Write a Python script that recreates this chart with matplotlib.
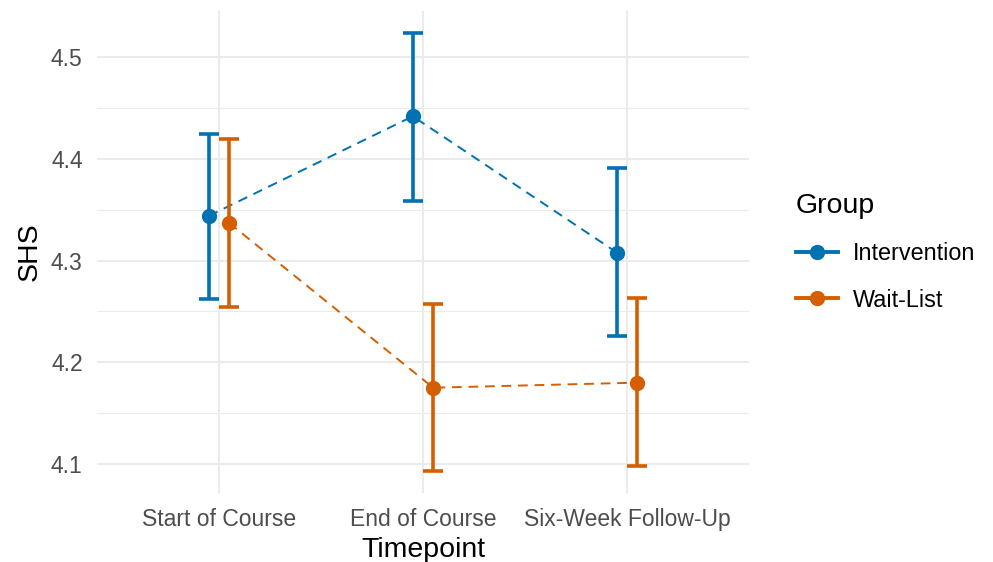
import numpy as np
import matplotlib.pyplot as plt
from matplotlib.lines import Line2D

plt.rcParams['font.family'] = ['Liberation Sans', 'DejaVu Sans']

timepoints = ["Start of Course", "End of Course", "Six-Week Follow-Up"]
groups = ["Intervention", "Wait-List"]
colors = ["#0072B2", "#D55E00"]

# group means and confidence limits, per timepoint
means = {
    "Intervention": [4.344, 4.442, 4.308],
    "Wait-List": [4.337, 4.175, 4.180],
}
lower = {
    "Intervention": [4.262, 4.359, 4.226],
    "Wait-List": [4.254, 4.093, 4.098],
}
upper = {
    "Intervention": [4.425, 4.524, 4.391],
    "Wait-List": [4.420, 4.257, 4.263],
}

dodge = [-0.05, 0.05]

fig = plt.figure(figsize=(9.93, 5.62), dpi=100)
ax = fig.add_axes([96.6 / 993, 1 - 493 / 562, (749.4 - 96.6) / 993, (493 - 11) / 562])

x = np.arange(1, len(timepoints) + 1)
for g, col, d in zip(groups, colors, dodge):
    m = np.array(means[g])
    lo = np.array(lower[g])
    hi = np.array(upper[g])
    xs = x + d
    ax.plot(xs, m, color=col, lw=1.4, ls=(0, (5, 3.5)), zorder=3)
    ax.errorbar(xs, m, yerr=[m - lo, hi - m], fmt='none', ecolor=col,
                elinewidth=2.6, capsize=7.2, capthick=2.6, zorder=4)
    ax.plot(xs, m, 'o', color=col, ms=10, zorder=5)

# ggplot-like 5% expansion
allv = np.concatenate([np.array(lower[g]) for g in groups] + [np.array(upper[g]) for g in groups])
rng = allv.max() - allv.min()
ax.set_ylim(allv.min() - 0.05 * rng, allv.max() + 0.05 * rng)
ax.set_xlim(0.4, len(timepoints) + 0.6)

ax.set_xticks(x)
ax.set_xticklabels(timepoints)
ax.set_yticks([4.1, 4.2, 4.3, 4.4, 4.5])
ax.set_yticks([4.15, 4.25, 4.35, 4.45], minor=True)
ax.grid(True, which='major', color='#EBEBEB', lw=1.4, zorder=0)
ax.grid(True, which='minor', axis='y', color='#EBEBEB', lw=0.8, zorder=0)
ax.set_axisbelow(True)
for s in ax.spines.values():
    s.set_visible(False)
ax.tick_params(which='both', length=0, labelsize=16.5, labelcolor='#4D4D4D')
ax.tick_params(axis='x', pad=11)
ax.tick_params(axis='y', pad=10)
ax.set_xlabel("Timepoint", fontsize=20.5, labelpad=4)
ax.set_ylabel("SHS", fontsize=20.5, labelpad=6)

handles = [Line2D([], [], color=c, lw=2.8, marker='o', ms=10) for c in colors]
leg = fig.legend(handles, groups, loc='upper left', bbox_to_anchor=(775 / 993, 1 - 172 / 562),
                 frameon=False, fontsize=16.8, title="Group", title_fontsize=20.5,
                 handlelength=1.8, handletextpad=0.65, labelspacing=1.0,
                 alignment='left')

fig.savefig("out.png", dpi=100)
